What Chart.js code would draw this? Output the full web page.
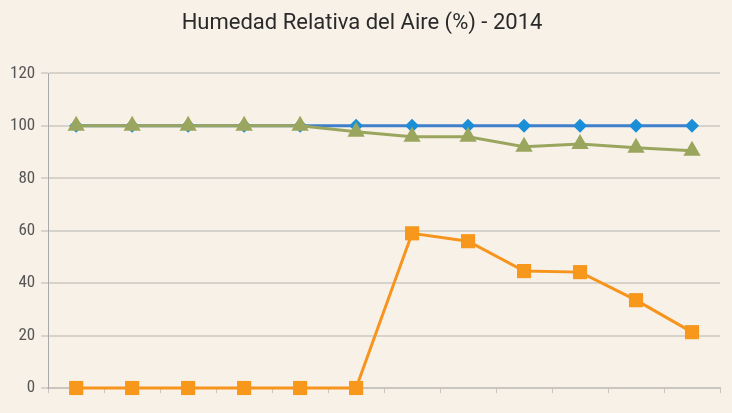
<!DOCTYPE html>
<html>
<head>
<meta charset="utf-8">
<script src="https://cdn.jsdelivr.net/npm/chart.js@4"></script>
<style>
  html, body { margin: 0; padding: 0; background: #f8f1e8; }
  #wrap { width: 732px; height: 413px; }
</style>
</head>
<body>
<div id="wrap"><canvas id="humedad" width="732" height="413"></canvas></div>
<script>
// Humedad relativa del aire (%) - 2014
const meses = ['Ene', 'Feb', 'Mar', 'Abr', 'May', 'Jun', 'Jul', 'Ago', 'Sep', 'Oct', 'Nov', 'Dic'];
const serieAzul = [100, 100, 100, 100, 100, 100, 100, 100, 100, 100, 100, 100];
const serieVerde = [100, 100, 100, 100, 100, 97.7, 95.8, 95.8, 92, 93.1, 91.6, 90.5];
const serieNaranja = [0, 0, 0, 0, 0, 0, 59, 56, 44.6, 44.2, 33.5, 21.3];
const ticksY = [0, 20, 40, 60, 80, 100, 120];

const fuenteTitulo = "Roboto, 'Liberation Sans', sans-serif";
const fuente = "'Roboto Condensed', 'Liberation Sans Narrow', Roboto, sans-serif";

const fondo = {
    id: 'fondo',
    beforeDraw(chart) {
        const c = chart.ctx;
        c.save();
        c.fillStyle = '#f8f1e8';
        c.fillRect(0, 0, chart.width, chart.height);
        c.restore();
    }
};

new Chart(document.getElementById('humedad'), {
    type: 'line',
    data: {
        labels: meses,
        datasets: [
            {
                label: 'Serie 1',
                data: serieAzul,
                borderColor: '#3f7fcb',
                backgroundColor: '#1b8ed8',
                borderWidth: 3,
                pointStyle: 'rectRot',
                pointRadius: 7,
                pointBorderWidth: 0,
                clip: false,
                order: 3
            },
            {
                label: 'Serie 2',
                data: serieVerde,
                borderColor: '#9aa65e',
                backgroundColor: '#9aa65e',
                borderWidth: 3,
                pointStyle: 'triangle',
                pointRadius: 10,
                pointBorderWidth: 0,
                clip: false,
                order: 2
            },
            {
                label: 'Serie 3',
                data: serieNaranja,
                borderColor: '#f7941d',
                backgroundColor: '#f7981d',
                borderWidth: 3,
                pointStyle: 'rect',
                pointRadius: 10,
                pointBorderWidth: 0,
                clip: false,
                order: 1
            }
        ]
    },
    options: {
        responsive: false,
        animation: false,
        layout: { padding: { left: 4, right: 12, top: 0, bottom: 20 } },
        plugins: {
            legend: { display: false },
            tooltip: { enabled: false },
            title: {
                display: true,
                text: 'Humedad Relativa del Aire (%) - 2014',
                color: '#2a2a2a',
                font: { family: fuenteTitulo, size: 22, weight: 'normal' },
                padding: { top: 10, bottom: 37 }
            }
        },
        scales: {
            x: {
                offset: true,
                grid: {
                    display: true,
                    offset: true,
                    drawOnChartArea: false,
                    drawTicks: true,
                    tickLength: 5,
                    color: '#c9c6c0'
                },
                border: { display: true, color: '#c9c6c0', width: 2 },
                ticks: { display: false }
            },
            y: {
                min: 0,
                max: 120,
                afterBuildTicks(axis) {
                    axis.ticks = ticksY.map(v => ({ value: v }));
                },
                grid: {
                    color: '#d6d3cd',
                    lineWidth: 2,
                    drawTicks: true,
                    tickLength: 7
                },
                border: { display: true, color: '#a9a9a9', width: 1 },
                ticks: {
                    color: '#555555',
                    font: { family: fuente, size: 17 },
                    padding: 6
                }
            }
        }
    },
    plugins: [fondo]
});
</script>
</body>
</html>
